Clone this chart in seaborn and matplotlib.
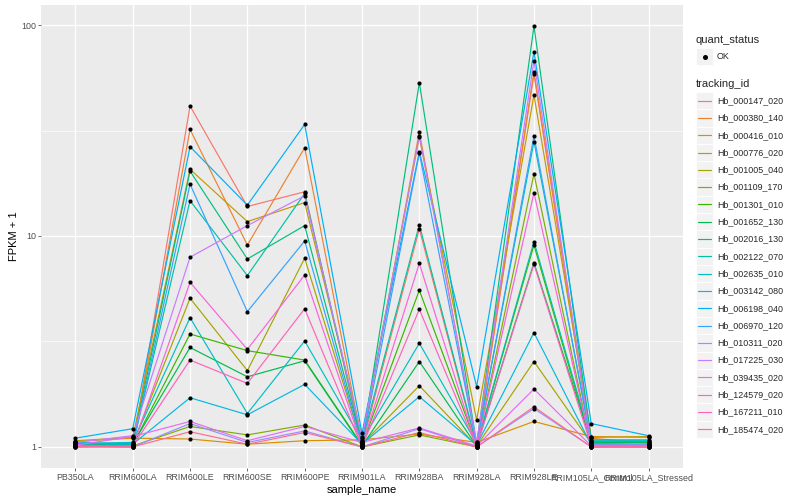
import numpy as np
import pandas as pd
import matplotlib
matplotlib.use('Agg')
import matplotlib.pyplot as plt
import seaborn as sns
from matplotlib.patches import Rectangle
from matplotlib.lines import Line2D

# ===================== data (FPKM + 1) =====================
samples = ['PB350LA', 'RRIM600LA', 'RRIM600LE', 'RRIM600SE', 'RRIM600PE', 'RRIM901LA',
           'RRIM928BA', 'RRIM928LA', 'RRIM928LE', 'RRIM105LA_Control', 'RRIM105LA_Stressed']

tracking_ids = ['Hb_000147_020', 'Hb_000380_140', 'Hb_000416_010', 'Hb_000776_020',
                'Hb_001005_040', 'Hb_001109_170', 'Hb_001301_010', 'Hb_001652_130',
                'Hb_002016_130', 'Hb_002122_070', 'Hb_002635_010', 'Hb_003142_080',
                'Hb_006198_040', 'Hb_006970_120', 'Hb_010311_020', 'Hb_017225_030',
                'Hb_039435_020', 'Hb_124579_020', 'Hb_167211_010', 'Hb_185474_020']

# ggplot default hue palette for 20 levels
gene_colors = ['#F8766D', '#EA8331', '#D89000', '#C09B00', '#A3A500', '#7CAE00', '#39B600',
               '#00BB4E', '#00BF7D', '#00C1A3', '#00BFC4', '#00BAE0', '#00B0F6', '#35A2FF',
               '#9590FF', '#C77CFF', '#E76BF3', '#FA62DB', '#FF62BC', '#FF6C91']

# one list per sample, values in tracking_ids order
fpkm_PB350LA = [1.01, 1.02, 1.06, 1.07, 1.03, 1.00, 1.01, 1.02, 1.03, 1.04,
                1.04, 1.05, 1.10, 1.02, 1.01, 1.05, 1.02, 1.00, 1.01, 1.00]
fpkm_RRIM600LA = [1.00, 1.02, 1.10, 1.11, 1.03, 1.01, 1.02, 1.03, 1.04, 1.02,
                  1.05, 1.03, 1.22, 1.01, 1.00, 1.13, 1.12, 1.00, 1.01, 1.00]
fpkm_RRIM600LE = [41.3, 32.0, 1.09, 20.7, 5.07, 1.25, 3.43, 2.96, 20.3, 14.7,
                  4.10, 1.71, 26.5, 17.6, 1.29, 7.93, 1.32, 6.03, 2.58, 1.18]
fpkm_RRIM600SE = [13.8, 9.06, 1.03, 11.7, 2.30, 1.14, 2.86, 2.15, 7.78, 6.49,
                  1.44, 1.42, 14.0, 4.38, 1.05, 11.2, 1.07, 2.90, 2.00, 1.03]
fpkm_RRIM600PE = [16.2, 26.2, 1.07, 14.4, 7.84, 1.27, 2.58, 2.56, 11.2, 15.9,
                  3.18, 1.98, 33.8, 9.47, 1.19, 15.5, 1.25, 6.53, 4.52, 1.17]
fpkm_RRIM901LA = [1.02, 1.05, 1.08, 1.12, 1.03, 1.00, 1.02, 1.01, 1.04, 1.06,
                  1.07, 1.03, 1.16, 1.02, 1.00, 1.10, 1.05, 1.01, 1.00, 1.00]
fpkm_RRIM928BA = [10.8, 31.2, 1.15, 29.4, 1.95, 1.14, 5.53, 2.54, 53.3, 11.3,
                  3.10, 1.73, 25.1, 24.7, 1.22, 29.8, 1.23, 7.42, 4.49, 1.17]
fpkm_RRIM928LA = [1.00, 1.02, 1.05, 1.34, 1.01, 1.00, 1.02, 1.01, 1.03, 1.02,
                  1.04, 1.02, 1.93, 1.02, 1.00, 1.05, 1.01, 1.00, 1.00, 1.00]
fpkm_RRIM928LE = [58.5, 60.0, 1.32, 46.6, 2.54, 19.7, 9.06, 7.47, 98.9, 9.40,
                  28.0, 3.48, 74.7, 29.8, 1.52, 67.7, 1.88, 16.0, 7.34, 1.55]
fpkm_RRIM105LA_Control = [1.02, 1.10, 1.12, 1.11, 1.04, 1.00, 1.03, 1.05, 1.08, 1.06,
                          1.07, 1.02, 1.29, 1.03, 1.00, 1.02, 1.01, 1.00, 1.01, 1.00]
fpkm_RRIM105LA_Stressed = [1.02, 1.04, 1.11, 1.12, 1.03, 1.00, 1.02, 1.05, 1.08, 1.06,
                           1.07, 1.02, 1.13, 1.03, 1.00, 1.02, 1.01, 1.00, 1.01, 1.00]

per_sample = [fpkm_PB350LA, fpkm_RRIM600LA, fpkm_RRIM600LE, fpkm_RRIM600SE, fpkm_RRIM600PE,
              fpkm_RRIM901LA, fpkm_RRIM928BA, fpkm_RRIM928LA, fpkm_RRIM928LE,
              fpkm_RRIM105LA_Control, fpkm_RRIM105LA_Stressed]

rows = []
for gene_idx, gene in enumerate(tracking_ids):
    for s_idx, sample in enumerate(samples):
        rows.append({'tracking_id': gene, 'sample_name': sample,
                     'fpkm1': per_sample[s_idx][gene_idx], 'quant_status': 'OK'})
df = pd.DataFrame(rows)
df['sample_name'] = pd.Categorical(df['sample_name'], categories=samples, ordered=True)

# ===================== style (ggplot theme_grey look) =====================
sns.set_theme(style='white')
plt.rcParams['font.family'] = ['Liberation Sans', 'DejaVu Sans']

W, H = 800, 500
fig = plt.figure(figsize=(8, 5), dpi=100)
ax = fig.add_axes([41 / W, 1 - 468 / H, (683 - 41) / W, (468 - 5) / H])
ax.set_facecolor('#EBEBEB')
for sp in ax.spines.values():
    sp.set_visible(False)

ax.set_yscale('log')
sns.lineplot(data=df, x='sample_name', y='fpkm1', hue='tracking_id',
             hue_order=tracking_ids, palette=gene_colors, estimator=None,
             linewidth=0.85, legend=False, ax=ax, zorder=3)
sns.scatterplot(data=df, x='sample_name', y='fpkm1', color='black', s=9,
                linewidth=0, legend=False, ax=ax, zorder=4)

ax.set_xlim(-0.6, len(samples) - 0.4)
ax.set_ylim(10 ** -0.1, 10 ** 2.095)
ax.set_yticks([1, 10, 100])
ax.set_yticklabels(['1', '10', '100'])
ax.set_yticks([10 ** 0.5, 10 ** 1.5], minor=True)
ax.yaxis.set_minor_formatter(matplotlib.ticker.NullFormatter())
ax.set_xticks(range(len(samples)))
ax.set_xticklabels(samples)

ax.grid(True, which='major', color='white', linewidth=0.9)
ax.grid(True, which='minor', axis='y', color='white', linewidth=0.45)
ax.set_axisbelow(True)
ax.tick_params(axis='both', which='major', length=2.2, width=0.5, color='#333333',
               labelsize=6.4, labelcolor='#4D4D4D', pad=1.5, direction='out',
               bottom=True, left=True)
ax.tick_params(axis='y', which='minor', length=0, left=False)

ax.set_xlabel('sample_name', fontsize=8, color='black', labelpad=2)
ax.set_ylabel('FPKM + 1', fontsize=8, color='black', labelpad=1)

# ===================== legend (drawn like ggplot guides) =====================
def fx(px):
    return px / W

def fy(py):
    return 1 - py / H

key_w, key_h = 17, 17.3
lx = 696

fig.text(fx(lx), fy(40), 'quant_status', fontsize=8, va='center', ha='left')
fig.add_artist(Rectangle((fx(lx), fy(48 + key_h)), key_w / W, key_h / H,
                         facecolor='#F2F2F2', edgecolor='white', linewidth=0.6))
fig.add_artist(Line2D([fx(lx + key_w / 2)], [fy(48 + key_h / 2)], marker='o',
                      markersize=2.6, color='black', linestyle='none'))
fig.text(fx(lx + key_w + 4), fy(48 + key_h / 2), 'OK', fontsize=6.4,
         va='center', ha='left')

fig.text(fx(lx), fy(84), 'tracking_id', fontsize=8, va='center', ha='left')
top = 92
for i, (gene, col) in enumerate(zip(tracking_ids, gene_colors)):
    y0 = top + i * key_h
    fig.add_artist(Rectangle((fx(lx), fy(y0 + key_h)), key_w / W, key_h / H,
                             facecolor='#F2F2F2', edgecolor='white', linewidth=0.6))
    fig.add_artist(Line2D([fx(lx + 2), fx(lx + key_w - 2)],
                          [fy(y0 + key_h / 2)] * 2, color=col, linewidth=0.85))
    fig.text(fx(lx + key_w + 4), fy(y0 + key_h / 2), gene, fontsize=6.4,
             va='center', ha='left')

fig.savefig('out.png', dpi=100, facecolor='white')
